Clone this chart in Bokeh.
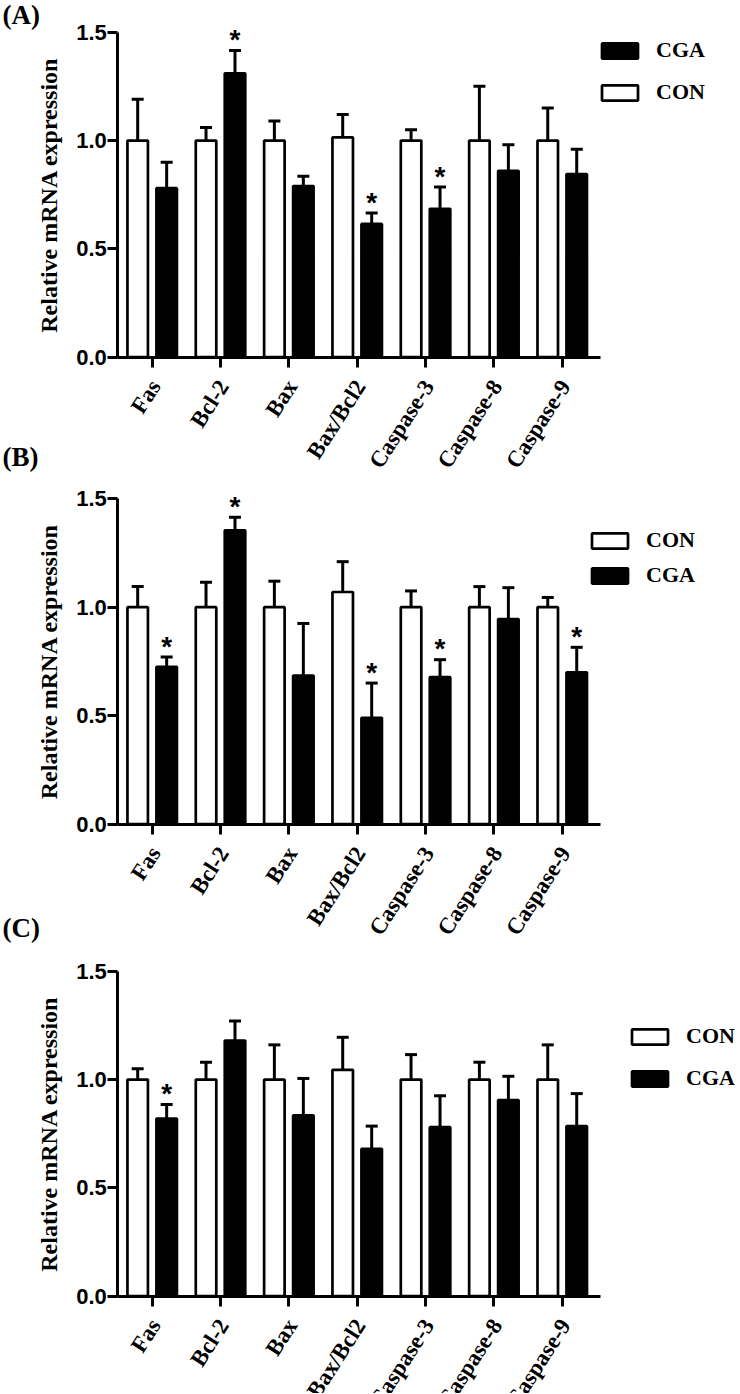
import math
from bokeh.plotting import figure
from bokeh.models import (ColumnDataSource, Whisker, TeeHead, FixedTicker, Legend,
                          LegendItem, Label, Range1d, NumeralTickFormatter)
from bokeh.transform import dodge
from bokeh.layouts import column
from bokeh.embed import file_html
from bokeh.resources import INLINE
from bokeh.core.properties import value

categories = ["Fas", "Bcl-2", "Bax", "Bax/Bcl2", "Caspase-3", "Caspase-8", "Caspase-9"]
y_ticks = [0.0, 0.5, 1.0, 1.5]

# Panel A
con_mean_a = [1.00, 1.00, 1.00, 1.015, 1.00, 1.00, 1.00]
con_sem_a = [0.19, 0.06, 0.09, 0.105, 0.05, 0.25, 0.15]
cga_mean_a = [0.78, 1.31, 0.79, 0.615, 0.685, 0.86, 0.845]
cga_sem_a = [0.12, 0.105, 0.045, 0.05, 0.10, 0.12, 0.115]
sig_a = [0, 1, 0, 1, 1, 0, 0]

# Panel B
con_mean_b = [1.00, 1.00, 1.00, 1.07, 1.00, 1.00, 1.00]
con_sem_b = [0.095, 0.115, 0.12, 0.14, 0.075, 0.095, 0.045]
cga_mean_b = [0.725, 1.355, 0.685, 0.49, 0.678, 0.945, 0.70]
cga_sem_b = [0.045, 0.06, 0.24, 0.16, 0.08, 0.145, 0.115]
sig_b = [1, 1, 0, 1, 1, 0, 1]

# Panel C
con_mean_c = [1.00, 1.00, 1.00, 1.045, 1.00, 1.00, 1.00]
con_sem_c = [0.05, 0.08, 0.16, 0.15, 0.115, 0.08, 0.16]
cga_mean_c = [0.82, 1.18, 0.835, 0.68, 0.78, 0.905, 0.785]
cga_sem_c = [0.065, 0.09, 0.17, 0.105, 0.145, 0.11, 0.15]
sig_c = [1, 0, 0, 0, 0, 0, 0]

SERIF = "Liberation Serif"
SANS = "Liberation Sans"
OFF = 0.212
BAR_W = 0.30
W = 740
X_LO, X_HI = -0.503, 6.56
AX_L_PX, AX_R_PX = 117.3, 600.0
Y_LO, Y_HI = 0.0, 1.5
LABEL_ANGLE = 1.0   # renders as a ~45 degree slant
LABEL_SIZE = "23px"


def make_panel(con_mean, con_sem, cga_mean, cga_sem, sig, cga_first,
               height, y0_px, y15_px, leg_loc, leg_spacing, tags):
    idx = list(range(len(categories)))
    src = ColumnDataSource(dict(
        idx=idx, name=categories, zero=[Y_LO] * len(idx),
        con=con_mean, con_up=[m + s for m, s in zip(con_mean, con_sem)],
        cga=cga_mean, cga_up=[m + s for m, s in zip(cga_mean, cga_sem)],
    ))
    sig_src = ColumnDataSource(dict(
        idx=[i for i in idx if sig[i]],
        y=[cga_mean[i] + cga_sem[i] for i in idx if sig[i]],
        t=["*" for i in idx if sig[i]],
    ))

    ppx = (AX_R_PX - AX_L_PX) / (X_HI - X_LO)
    ppy = (y0_px - y15_px) / (Y_HI - Y_LO)
    xr = Range1d(X_LO - AX_L_PX / ppx, X_HI + (W - AX_R_PX) / ppx)
    yr = Range1d(Y_LO - (height - y0_px) / ppy, Y_HI + y15_px / ppy)

    p = figure(width=W, height=height, x_range=xr, y_range=yr,
               output_backend="svg", toolbar_location=None, min_border=0)
    p.outline_line_color = None
    p.grid.visible = False
    p.background_fill_color = "white"
    p.border_fill_color = "white"

    xcon = dodge("idx", -OFF, range=p.x_range)
    xcga = dodge("idx", OFF, range=p.x_range)

    r_con = p.vbar(x=xcon, top="con", bottom=0, width=BAR_W, source=src,
                   fill_color="white", line_color="black", line_width=2.7)
    r_cga = p.vbar(x=xcga, top="cga", bottom=0, width=BAR_W, source=src,
                   fill_color="black", line_color="black", line_width=2.7)

    for xs, lo, up in ((xcon, "con", "con_up"), (xcga, "cga", "cga_up")):
        p.add_layout(Whisker(source=src, base=xs, lower=lo, upper=up,
                             line_color="black", line_width=3,
                             upper_head=TeeHead(size=12, line_width=3, line_color="black"),
                             lower_head=None))

    # significance marks
    p.text(x=xcga, y="y", text="t", source=sig_src,
           text_font=value(SANS), text_font_style="bold", text_font_size="28px",
           text_align="center", text_baseline="alphabetic", y_offset=-11,
           text_color="black")

    # slanted category labels, right end at each tick
    p.text(x="idx", y="zero", text="name", source=src,
           angle=LABEL_ANGLE, text_align="right", text_baseline="middle",
           y_offset=25, x_offset=3, text_font=value(SERIF), text_font_style="bold",
           text_font_size=LABEL_SIZE, text_color="black")

    # axes
    p.yaxis.fixed_location = X_LO
    p.yaxis.bounds = (Y_LO, Y_HI)
    p.yaxis.ticker = FixedTicker(ticks=y_ticks)
    p.yaxis.formatter = NumeralTickFormatter(format="0.0")
    p.yaxis.axis_label = "Relative mRNA expression"
    p.yaxis.axis_label_text_font = SERIF
    p.yaxis.axis_label_text_font_style = "bold"
    p.yaxis.axis_label_text_font_size = "24px"
    p.yaxis.axis_label_standoff = 11
    p.yaxis.major_label_text_font = SANS
    p.yaxis.major_label_text_font_style = "bold"
    p.yaxis.major_label_text_font_size = "22px"
    p.yaxis.major_label_standoff = 1

    p.xaxis.fixed_location = Y_LO
    p.xaxis.bounds = (X_LO, X_HI)
    p.xaxis.ticker = FixedTicker(ticks=idx)
    p.xaxis.major_label_overrides = {i: "" for i in idx}

    for ax in (p.xaxis, p.yaxis):
        ax.axis_line_width = 3
        ax.axis_line_color = "black"
        ax.major_tick_line_width = 3
        ax.major_tick_line_color = "black"
        ax.major_tick_out = 10
        ax.major_tick_in = 0
        ax.minor_tick_line_color = None
        ax.major_label_text_color = "black"
        ax.axis_label_text_color = "black"

    items_map = {"CGA": r_cga, "CON": r_con}
    order = ["CGA", "CON"] if cga_first else ["CON", "CGA"]
    leg = Legend(items=[LegendItem(label=k, renderers=[items_map[k]]) for k in order],
                 location=leg_loc, padding=0, margin=0, spacing=leg_spacing,
                 glyph_width=45, glyph_height=19, label_height=26,
                 label_standoff=14, border_line_color=None, background_fill_alpha=0,
                 label_text_font=SERIF, label_text_font_style="bold",
                 label_text_font_size="22px", label_text_color="black")
    p.add_layout(leg)

    for t, yy in tags:
        p.add_layout(Label(x=2, y=yy, x_units="screen", y_units="screen",
                           text=t, text_font=SERIF, text_font_style="bold",
                           text_font_size="27px", text_baseline="top",
                           text_color="black"))
    return p


pa = make_panel(con_mean_a, con_sem_a, cga_mean_a, cga_sem_a, sig_a, True,
                475, 356.7, 31.7, (597, 370), 16, [("(A)", 476), ("(B)", 34)])
pb = make_panel(con_mean_b, con_sem_b, cga_mean_b, cga_sem_b, sig_b, False,
                473, 348.5, 23.3, (587, 360), 9, [("(C)", 36)])
pc = make_panel(con_mean_c, con_sem_c, cga_mean_c, cga_sem_c, sig_c, False,
                445, 347.7, 22.7, (627, 302), 16, [])

layout = column(pa, pb, pc, spacing=0)
open("out.html", "w").write(file_html(layout, INLINE))
